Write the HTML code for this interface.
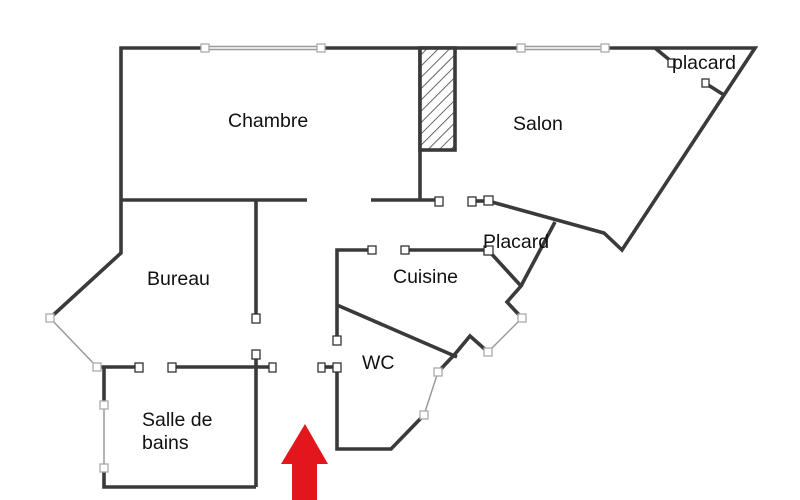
<!DOCTYPE html>
<html><head><style>
html,body{margin:0;padding:0;background:#fff;}
svg{display:block;}
text{font-family:"Liberation Sans",sans-serif;font-size:19.5px;fill:#111;}
</style></head><body>
<svg width="800" height="500" viewBox="0 0 800 500" xmlns="http://www.w3.org/2000/svg">
<defs>
<pattern id="h" width="8" height="8" patternUnits="userSpaceOnUse" patternTransform="rotate(45)">
<rect width="8" height="8" fill="#fff"/><line x1="0" y1="0" x2="0" y2="8" stroke="#333" stroke-width="1.5"/>
</pattern>
</defs>
<g fill="none" stroke="#3a3a3a" stroke-width="3.6" stroke-linejoin="miter">
<polyline points="205,48 121,48 121,253 50,318"/>
<line x1="321" y1="48" x2="521" y2="48"/>
<polyline points="605,48 755,48 622,250 604,233 488,201"/>
<line x1="121" y1="200" x2="307" y2="200"/>
<line x1="371" y1="200" x2="439" y2="200"/>
<line x1="420" y1="48" x2="420" y2="200"/>
<line x1="256" y1="200" x2="256" y2="318"/>
<line x1="472" y1="201" x2="488" y2="201"/>
<line x1="655" y1="48" x2="672" y2="62"/>
<line x1="705" y1="83" x2="724" y2="95"/>
<polyline points="372,250 337,250 337,340"/>
<line x1="405" y1="250" x2="488" y2="250"/>
<polyline points="488,250 521,286 507,302 522,318"/>
<line x1="555" y1="222" x2="521" y2="286"/>
<polyline points="488,352 470,336 455,354 438,372"/>
<line x1="337" y1="305" x2="457" y2="357"/>
<polyline points="337,367 337,449 391,449 424,415"/>
<line x1="322" y1="367" x2="337" y2="367"/>
<line x1="97" y1="367" x2="139" y2="367"/>
<line x1="172" y1="367" x2="273" y2="367"/>
<line x1="256" y1="355" x2="256" y2="487"/>
<polyline points="104,468 104,487 256,487"/>
<line x1="104" y1="367" x2="104" y2="405"/>
</g>
<g stroke="#999" stroke-width="1.5" fill="none">
<line x1="205" y1="46.5" x2="321" y2="46.5"/><line x1="205" y1="49.5" x2="321" y2="49.5"/>
<line x1="521" y1="46.5" x2="605" y2="46.5"/><line x1="521" y1="49.5" x2="605" y2="49.5"/>
<line x1="50" y1="318" x2="97" y2="367"/>
<line x1="522" y1="318" x2="488" y2="352"/>
<line x1="438" y1="372" x2="424" y2="415"/>
<line x1="104" y1="405" x2="104" y2="468"/>
</g>
<rect x="420" y="48" width="35" height="102" fill="url(#h)" stroke="#3a3a3a" stroke-width="3.6"/>
<g fill="#fff" stroke="#333" stroke-width="1.3">
<rect x="201" y="44" width="8" height="8" stroke="#aaa"/><rect x="317" y="44" width="8" height="8" stroke="#aaa"/>
<rect x="517" y="44" width="8" height="8" stroke="#aaa"/><rect x="601" y="44" width="8" height="8" stroke="#aaa"/>
<rect x="46" y="314" width="8" height="8" stroke="#aaa"/><rect x="93" y="363" width="8" height="8" stroke="#aaa"/>
<rect x="518" y="314" width="8" height="8" stroke="#aaa"/><rect x="484" y="348" width="8" height="8" stroke="#aaa"/>
<rect x="434" y="368" width="8" height="8" stroke="#aaa"/><rect x="420" y="411" width="8" height="8" stroke="#aaa"/>
<rect x="100" y="401" width="8" height="8" stroke="#aaa"/><rect x="100" y="464" width="8" height="8" stroke="#aaa"/>
<rect x="435" y="197" width="8" height="9"/><rect x="468" y="197" width="8" height="9"/><rect x="484" y="196" width="9" height="9"/>
<rect x="252" y="314" width="8" height="9"/><rect x="252" y="350" width="8" height="9"/>
<rect x="368" y="246" width="8" height="8"/><rect x="401" y="246" width="8" height="8"/><rect x="484" y="246" width="9" height="9"/>
<rect x="333" y="336" width="8" height="9"/><rect x="318" y="363" width="7" height="9"/><rect x="333" y="363" width="8" height="9"/>
<rect x="135" y="363" width="8" height="9"/><rect x="168" y="363" width="8" height="9"/><rect x="269" y="363" width="7" height="9"/>
<rect x="668" y="59" width="7" height="8"/><rect x="702" y="79" width="7" height="8"/>
</g>
<polygon points="305,424 328,464 317,464 317,500 292,500 292,464 281,464" fill="#e3161c"/>
<text x="228" y="127">Chambre</text>
<text x="513" y="130">Salon</text>
<text x="672" y="69">placard</text>
<text x="483" y="248">Placard</text>
<text x="393" y="283">Cuisine</text>
<text x="147" y="285">Bureau</text>
<text x="362" y="369">WC</text>
<text x="142" y="426">Salle de</text>
<text x="142" y="449">bains</text>
</svg>
</body></html>
